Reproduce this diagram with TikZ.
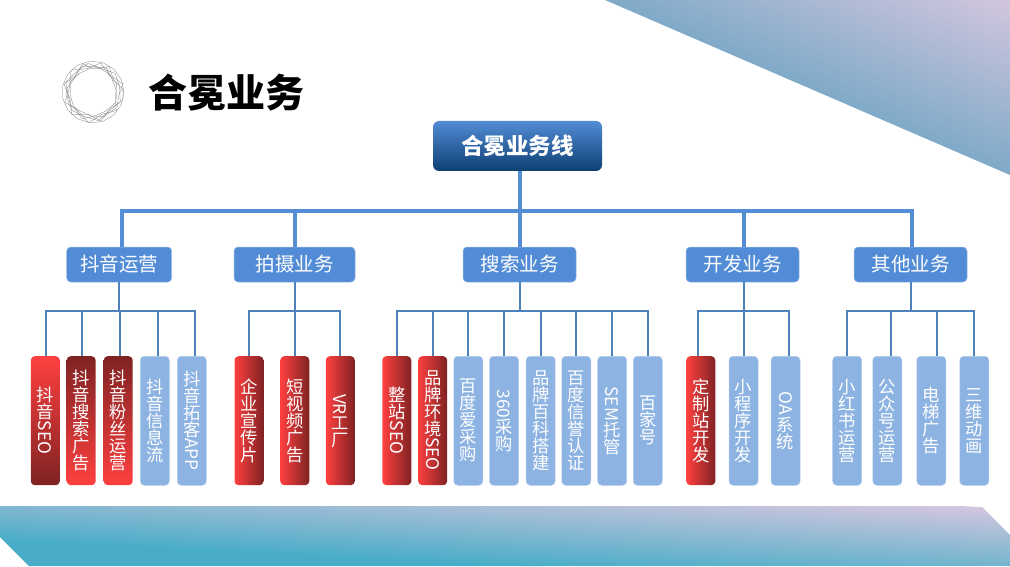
\documentclass[tikz,border=0pt]{standalone}
\usepackage{fontspec}
\setmainfont{Noto Sans CJK SC}
\definecolor{lineblue}{HTML}{4F81BD}
\definecolor{trunkblue}{HTML}{558ED5}
\definecolor{deptblue}{HTML}{538CD6}
\definecolor{deepblue}{HTML}{0D3F72}
\definecolor{leafblue}{HTML}{8DB3E2}
\definecolor{hotred}{HTML}{FF4040}
\definecolor{darkred}{HTML}{7F2222}
\definecolor{lilac}{HTML}{D3C6DE}
\definecolor{steel}{HTML}{7FAAC8}
\definecolor{teal}{HTML}{4AADC8}
\newcommand{\latin}[1]{\raisebox{15pt}{\rotatebox{-90}{#1}}}
\newcommand{\leaffont}{\fontsize{17.3}{17}\selectfont\setlength{\lineskiplimit}{-5pt}}

\begin{document}
\begin{tikzpicture}[x=1pt,y=-1pt,
    trunk/.style={line width=4pt,trunkblue},
    branch/.style={line width=2pt,lineblue},
    dept/.style={rectangle,rounded corners=4pt,fill=deptblue,draw=deptblue!60!white,line width=.5pt,
        text=white,minimum height=35pt,inner sep=0pt,font=\fontsize{19.5}{20}\selectfont},
    leaf/.style={rectangle,rounded corners=4pt,minimum width=29pt,minimum height=129pt,inner sep=0pt,
        text=white,align=center,anchor=north,font=\leaffont},
    itemblue/.style={leaf,fill=leafblue,draw=leafblue!70!white,line width=.5pt},
    itemred/.style={leaf,left color=hotred,middle color=hotred!88!darkred,right color=darkred},
    itemfade/.style={leaf,top color=hotred,middle color=hotred!88!darkred,bottom color=darkred},
    itemrise/.style={leaf,top color=darkred,middle color=hotred!88!darkred,bottom color=hotred},
    ring/.style={black!50,line width=.3pt}]

    \useasboundingbox (0,0) rectangle (1010,567);

    % corner and footer bands
    \begin{scope}
        \clip (605,0) -- (1010,0) -- (1010,175) -- cycle;
        \shade [top color=lilac,bottom color=steel,transform canvas={rotate around={-23.4:(605,0)}}]
            (500,-161) rectangle (1300,0);
    \end{scope}
    \begin{scope}
        \clip (0,506) -- (981,506) -- (1010,535) -- (1010,566) -- (29,566) -- (0,537) -- cycle;
        \shade [top color=lilac,bottom color=teal,transform canvas={rotate around={-2.9:(505,530)}}]
            (-100,483) rectangle (1200,565);
        \fill [teal,transform canvas={rotate around={-2.9:(505,530)}}] (-100,564.5) rectangle (1200,640);
    \end{scope}

    % logo ring
    \begin{scope}[shift={(93,92)},y=1pt]
        \draw [ring] (0:31) -- (24:31) -- (48:31) -- (72:31) -- (96:31) -- (120:31) -- (144:31)
            -- (168:31) -- (192:31) -- (216:31) -- (240:31) -- (264:31) -- (288:31) -- (312:31)
            -- (336:31) -- cycle;
        \draw [ring] (10:27) -- (40:29) -- (70:25) -- (100:29) -- (130:26) -- (160:29) -- (190:25)
            -- (220:28) -- (250:26) -- (280:29) -- (310:25) -- (340:29) -- cycle;
        \draw [ring] (0:24) -- (35:23) -- (62:28) -- (95:24) -- (125:23) -- (155:25) -- (185:23)
            -- (215:24) -- (248:29) -- (275:24) -- (305:23) -- (335:25) -- cycle;
        \draw [ring] (20:25) -- (55:24) -- (85:26) -- (115:28) -- (145:23) -- (175:27) -- (205:27)
            -- (235:23) -- (265:24) -- (295:27) -- (325:28) -- (350:23) -- cycle;
        \draw [ring] (5:30) -- (30:24) -- (58:30) -- (88:23) -- (110:30) -- (138:24) -- (165:30)
            -- (198:24) -- (226:31) -- (258:23) -- (285:30) -- (318:24) -- (345:31) -- cycle;
        \draw [ring] (15:31) -- (45:24) -- (75:30) -- (105:24) -- (135:31) -- (170:24) -- (200:30)
            -- (230:24) -- (262:31) -- (292:24) -- (322:30) -- (352:26) -- cycle;
    \end{scope}

    \node (title) at (226,93) {\fontsize{39}{40}\selectfont\bfseries 合冕业务};

    \node [rectangle,rounded corners=6pt,top color=deptblue,bottom color=deepblue,
        minimum width=169pt,minimum height=50pt,inner sep=0pt,text=white,
        font=\fontsize{22.5}{24}\selectfont\bfseries] (root) at (517.5,146) {合冕业务线};

    \node [dept,minimum width=105pt] (dept1) at (119.2,264.5) {抖音运营};
    \node [dept,minimum width=121pt] (dept2) at (294.5,264.5) {拍摄业务};
    \node [dept,minimum width=113pt] (dept3) at (519.5,264.5) {搜索业务};
    \node [dept,minimum width=113pt] (dept4) at (742.5,264.5) {开发业务};
    \node [dept,minimum width=113pt] (dept5) at (910.5,264.5) {其他业务};

    \node [itemfade] (item11) at (45.3,356) {抖\\音\\\latin{SEO}};
    \node [itemrise] (item12) at (81.2,356) {抖\\音\\搜\\索\\广\\告};
    \node [itemrise] (item13) at (118.2,356) {抖\\音\\粉\\丝\\运\\营};
    \node [itemblue] (item14) at (154.8,356) {抖\\音\\信\\息\\流};
    \node [itemblue] (item15) at (191.8,356) {抖\\音\\拓\\客\\\latin{APP}};

    \node [itemred] (item21) at (249,356) {企\\业\\宣\\传\\片};
    \node [itemred] (item22) at (294.8,356) {短\\视\\频\\广\\告};
    \node [itemred] (item23) at (340.3,356) {\latin{VR}\\[3pt]工\\厂};

    \node [itemred] (item31) at (396.8,356) {整\\站\\\latin{SEO}};
    \node [itemred] (item32) at (432.7,356) {品\\牌\\环\\境\\\latin{SEO}};
    \node [itemblue] (item33) at (468.3,356) {百\\度\\爱\\采\\购};
    \node [itemblue] (item34) at (504,356) {\latin{360}\\采\\购};
    \node [itemblue] (item35) at (540.7,356) {品\\牌\\百\\科\\搭\\建};
    \node [itemblue] (item36) at (576.3,356) {百\\度\\信\\誉\\认\\证};
    \node [itemblue] (item37) at (612.2,356) {\latin{SEM}\\托\\管};
    \node [itemblue] (item38) at (647.8,356) {百\\家\\号};

    \node [itemred] (item41) at (700.8,356) {定\\制\\站\\开\\发};
    \node [itemblue] (item42) at (743.5,356) {小\\程\\序\\开\\发};
    \node [itemblue] (item43) at (785.5,356) {\latin{OA}\\[1pt]系\\统};

    \node [itemblue] (item51) at (847.2,356) {小\\红\\书\\运\\营};
    \node [itemblue] (item52) at (887.3,356) {公\\众\\号\\运\\营};
    \node [itemblue] (item53) at (931.3,356) {电\\梯\\广\\告};
    \node [itemblue] (item54) at (974.3,356) {三\\维\\动\\画};

    \coordinate (bar0) at (520,211);
    \coordinate (bar1) at (119.2,311);
    \coordinate (bar2) at (294.5,311);
    \coordinate (bar3) at (519.5,311);
    \coordinate (bar4) at (743.5,311);
    \coordinate (bar5) at (910.5,311);

    \draw [trunk] ([xshift=2.5pt]root.south) -- (dept3.north -| bar0);
    \draw [trunk] ([xshift=2.5pt]dept1.north) |- (bar0) -| ([xshift=1.5pt]dept5.north);
    \draw [trunk] (dept2.north) -- (dept2.north |- bar0);
    \draw [trunk] ([xshift=1pt]dept4.north) -- ([xshift=1pt]dept4.north |- bar0);

    \draw [branch] (dept1.south) -- (bar1);
    \draw [branch] ([xshift=.7pt]item11.north) |- (bar1) -| ([xshift=3.2pt]item15.north);
    \draw [branch] ([xshift=.8pt]item12.north) -- ([xshift=.8pt]item12.north |- bar1);
    \draw [branch] ([xshift=1.3pt]item13.north) -- ([xshift=1.3pt]item13.north |- bar1);
    \draw [branch] ([xshift=2.7pt]item14.north) -- ([xshift=2.7pt]item14.north |- bar1);

    \draw [branch] (dept2.south) -- (bar2);
    \draw [branch] (item21.north) |- (bar2) -| (item23.north);
    \draw [branch] (item22.north) -- (item22.north |- bar2);

    \draw [branch] (dept3.south) -- (bar3);
    \draw [branch] (item31.north) |- (bar3) -| (item38.north);
    \draw [branch] (item32.north) -- (item32.north |- bar3);
    \draw [branch] (item33.north) -- (item33.north |- bar3);
    \draw [branch] (item34.north) -- (item34.north |- bar3);
    \draw [branch] (item35.north) -- (item35.north |- bar3);
    \draw [branch] (item36.north) -- (item36.north |- bar3);
    \draw [branch] (item37.north) -- (item37.north |- bar3);

    \draw [branch] (dept4.south -| bar4) -- (bar4);
    \draw [branch] ([xshift=-2.8pt]item41.north) |- (bar4) -| ([xshift=3.5pt]item43.north);
    \draw [branch] (item42.north) -- (item42.north |- bar4);

    \draw [branch] (dept5.south) -- (bar5);
    \draw [branch] (item51.north) |- (bar5) -| (item54.north);
    \draw [branch] ([xshift=3.7pt]item52.north) -- ([xshift=3.7pt]item52.north |- bar5);
    \draw [branch] ([xshift=5.7pt]item53.north) -- ([xshift=5.7pt]item53.north |- bar5);
\end{tikzpicture}
\end{document}
